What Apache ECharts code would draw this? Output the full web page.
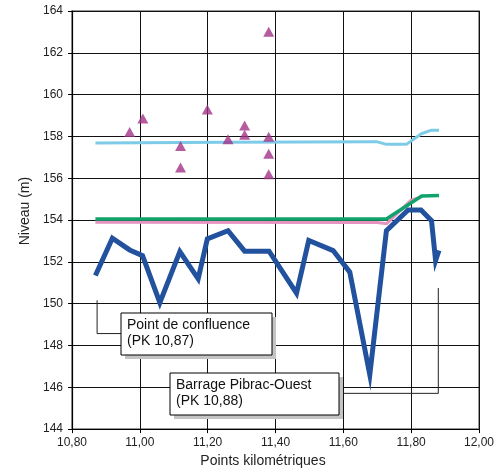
<!DOCTYPE html>
<html><head><meta charset="utf-8">
<script src="https://cdn.jsdelivr.net/npm/echarts@6/dist/echarts.min.js"></script>
<style>html,body{margin:0;padding:0;background:#fff}#c{width:498px;height:473px}</style>
</head><body><div id="c"></div>
<script>
// Data
var bedX = [10.869,10.919,10.970,11.008,11.059,11.118,11.172,11.199,11.260,11.309,11.381,11.462,11.498,11.570,11.619,11.678,11.727,11.791,11.829,11.860,11.872,11.882];
var bedY = [151.35,153.13,152.57,152.30,150.05,152.49,151.19,153.10,153.49,152.51,152.51,150.5,153.02,152.54,151.51,146.6,153.49,154.48,154.48,153.97,152.06,152.54];
var greenX = [10.869,11.727,11.831,11.882];
var greenY = [154.05,154.05,155.15,155.18];
var pinkX = [10.869,11.700,11.727,11.800,11.830];
var pinkY = [153.89,153.88,153.82,154.95,155.1];
var cyanX = [10.869,11.250,11.698,11.727,11.786,11.830,11.860,11.882];
var cyanY = [157.68,157.72,157.75,157.62,157.62,158.13,158.30,158.30];
var obsX = [10.970,11.009,11.120,11.120,11.199,11.260,11.309,11.309,11.380,11.380,11.380,11.380];
var obsY = [158.21,158.86,157.54,156.51,159.29,157.86,158.52,158.08,163.01,157.98,157.17,156.19];
var yTicks = [144,146,148,150,152,154,156,158,160,162,164];
var xTicks = [10.8,11.0,11.2,11.4,11.6,11.8,12.0];
var xTickLabels = ['10,80','11,00','11,20','11,40','11,60','11,80','12,00'];
var note1 = ['Point de confluence','(PK 10,87)'];
var note2 = ['Barrage Pibrac-Ouest','(PK 10,88)'];
var anchor1 = [[10.874,150.16],[10.874,148.57]];
var anchor2 = [[11.880,150.75],[11.880,145.71]];

function zip(a,b){return a.map(function(v,i){return [v,b[i]];});}
var FONT = 'Liberation Sans, Arial, sans-serif';
var chart = echarts.init(document.getElementById('c'), null, {renderer:'canvas'});
chart.setOption({
  animation:false,
  backgroundColor:'#fff',
  grid:{left:72,top:11,right:19,bottom:42,show:true,borderColor:'#777',borderWidth:1.5,backgroundColor:'transparent'},
  xAxis:{type:'value',min:10.8,max:12.0,interval:0.1,
    axisLine:{show:true,lineStyle:{color:'#000',width:1.2}},
    axisTick:{show:true,length:4,lineStyle:{color:'#000'},customValues:xTicks},
    axisLabel:{color:'#222',fontSize:12,fontFamily:FONT,margin:8,customValues:xTicks,
      formatter:function(v){var i=xTicks.findIndex(function(t){return Math.abs(t-v)<1e-6;});return i>=0?xTickLabels[i]:'';}},
    splitLine:{show:true,lineStyle:{color:'#111',width:1}},
    name:'Points kilométriques',nameLocation:'middle',nameGap:24,
    nameTextStyle:{color:'#222',fontSize:14,fontFamily:FONT,padding:[0,25,0,0]}
  },
  yAxis:{type:'value',min:144,max:164,interval:2,
    axisLine:{show:true,lineStyle:{color:'#000',width:1.2}},
    axisTick:{show:true,length:4,lineStyle:{color:'#000'}},
    axisLabel:{color:'#222',fontSize:12,fontFamily:FONT,margin:9,
      formatter:function(v){return yTicks.indexOf(Math.round(v))>=0?String(Math.round(v)):'';}},
    splitLine:{show:true,lineStyle:{color:'#111',width:1}},
    name:'Niveau (m)',nameLocation:'middle',nameGap:38,
    nameTextStyle:{color:'#222',fontSize:14,fontFamily:FONT,padding:[0,0,0,18]}
  },
  series:[
    {type:'line',data:zip(cyanX,cyanY),showSymbol:false,lineStyle:{color:'#7ecbe8',width:3},z:2},
    {type:'line',data:zip(pinkX,pinkY),showSymbol:false,lineStyle:{color:'#e693c0',width:3},z:3},
    {type:'line',data:zip(greenX,greenY),showSymbol:false,lineStyle:{color:'#12a36c',width:3.5},z:4},
    {type:'line',data:zip(bedX,bedY),showSymbol:false,lineStyle:{color:'#22529e',width:5,join:'miter'},z:5},
    {type:'scatter',data:zip(obsX,obsY),symbol:'triangle',symbolSize:[11,10],itemStyle:{color:'#a3338a'},z:6}
  ]
});

function px(p){return chart.convertToPixel({gridIndex:0},p);}
var a1t=px(anchor1[0]), a1c=px(anchor1[1]);
var a2t=px(anchor2[0]), a2c=px(anchor2[1]);
var b1={x:121,y:313,w:151,h:42};
var b2={x:170,y:373,w:169,h:42};
function box(b,lines){
  return [
    {type:'rect',shape:{x:b.x+4,y:b.y+4,width:b.w,height:b.h},style:{fill:'#c4c4c4'},z:100},
    {type:'rect',shape:{x:b.x,y:b.y,width:b.w,height:b.h},style:{fill:'#fff',stroke:'#000',lineWidth:1},z:101},
    {type:'text',x:b.x+6,y:b.y+4,style:{text:lines.join('\n'),font:'14px '+FONT,fill:'#111',lineHeight:16,textVerticalAlign:'top'},z:102}
  ];
}
var g=[];
g.push({type:'polyline',shape:{points:[a1t,a1c,[b1.x,a1c[1]]]},style:{stroke:'#222',lineWidth:1,fill:null},z:99});
g.push({type:'polyline',shape:{points:[a2t,a2c,[b2.x+b2.w,a2c[1]]]},style:{stroke:'#222',lineWidth:1,fill:null},z:99});
g=g.concat(box(b1,note1)).concat(box(b2,note2));
chart.setOption({graphic:g});
</script></body></html>
